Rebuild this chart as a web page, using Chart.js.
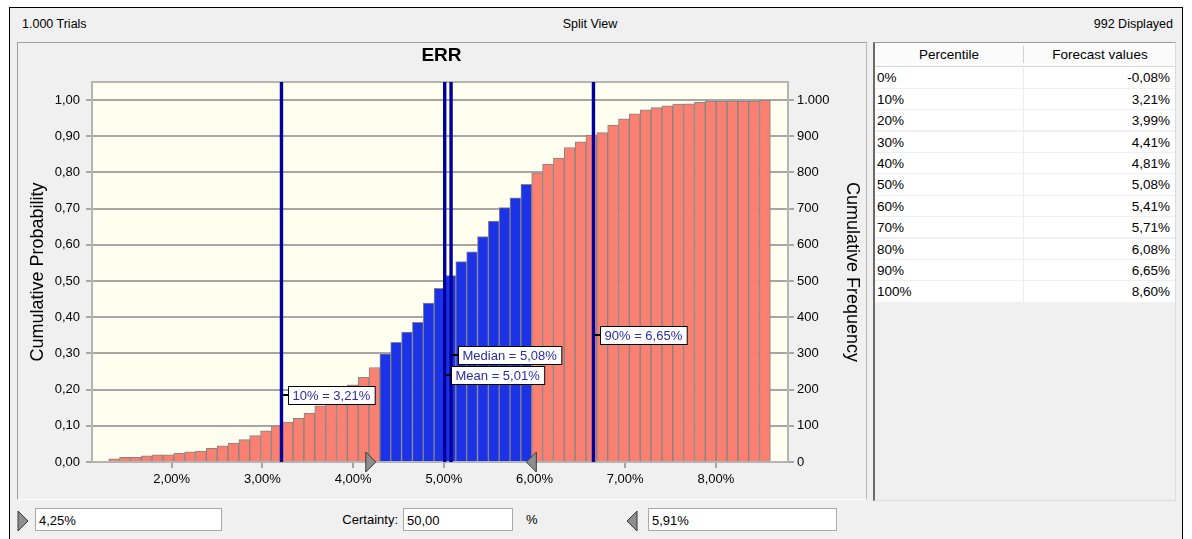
<!DOCTYPE html>
<html lang="de">
<head>
<meta charset="utf-8">
<title>ERR – Split View</title>
<script src="https://cdn.jsdelivr.net/npm/chart.js@4.4.1/dist/chart.umd.min.js"></script>
<style>
  html, body { margin: 0; padding: 0; }
  body {
    width: 1192px; height: 539px; position: relative; overflow: hidden; background: #ffffff;
    font-family: "Liberation Sans", Arial, sans-serif; font-size: 12.5px; color: #000;
  }
  .abs { position: absolute; }
  #frame { left: 9px; top: 7px; width: 1172px; height: 540px; border: 1px solid #000; background: #f0f0f0; }
  .hdr { top: 16px; line-height: 16px; white-space: nowrap; }
  #chartPanel {
    left: 17px; top: 42px; width: 848px; height: 456px;
    border: 1px solid #a0a0a0; border-right-color: #b8b8b8; border-bottom-color: #ffffff;
  }
  #chart { left: 18px; top: 43px; width: 847px; height: 446px; }
  #tablePanel {
    left: 873px; top: 42px; width: 300px; height: 457px; background: #f0f0f0;
    border-left: 2px solid #6a6a6a; border-top: 1px solid #9a9a9a;
    border-right: 1px solid #dcdcdc; border-bottom: 1px solid #dcdcdc;
    font-size: 13.5px;
  }
  #thead { position: absolute; left: 0; top: 0; width: 300px; height: 23px; background: #fbfbfb; border-bottom: 1px solid #d8d8d8; }
  #thead div { position: absolute; top: 0; height: 23px; line-height: 23px; text-align: center; }
  .row { position: absolute; left: 0; width: 300px; background: #fff; border-bottom: 1px solid #efefef; box-sizing: border-box; }
  .row div { position: absolute; top: 0; white-space: nowrap; }
  .box {
    height: 23px; line-height: 23px; background: #fff; border: 1px solid #a9a9a9;
    padding-left: 3px; box-sizing: border-box; font-size: 13px; white-space: nowrap;
  }
  .lbl { font-size: 13px; line-height: 25px; white-space: nowrap; }
</style>
</head>
<body>
<div id="frame" class="abs"></div>
<div id="trialsText" class="abs hdr" style="left:22px"></div>
<div class="abs hdr" style="left:490px;width:200px;text-align:center">Split View</div>
<div id="displayedText" class="abs hdr" style="right:19px;text-align:right"></div>

<div id="chartPanel" class="abs"></div>
<canvas id="chart" class="abs" width="847" height="446"></canvas>

<div id="tablePanel" class="abs">
  <div id="thead">
    <div style="left:0;width:148px">Percentile</div>
    <div style="left:148px;width:152px;border-left:1px solid #d0d0d0;top:3px;height:17px;line-height:17px">Forecast values</div>
  </div>
  <div id="tbody"></div>
</div>

<!-- certainty controls under the chart -->
<svg class="abs" style="left:17px;top:510px" width="12" height="22">
  <polygon points="1,1 11,11 1,21" fill="#8e8e8e" stroke="#3a3a3a" stroke-width="1"/>
</svg>
<div id="lowBox" class="abs box" style="left:35px;top:508px;width:187px"></div>
<div class="abs lbl" style="left:300px;top:507px;width:98px;text-align:right">Certainty:</div>
<div id="certBox" class="abs box" style="left:403px;top:508px;width:110px"></div>
<div class="abs lbl" style="left:526px;top:507px">%</div>
<svg class="abs" style="left:626px;top:510px" width="12" height="22">
  <polygon points="11,1 1,11 11,21" fill="#8e8e8e" stroke="#3a3a3a" stroke-width="1"/>
</svg>
<div id="highBox" class="abs box" style="left:648px;top:508px;width:189px"></div>

<script>
// ---- forecast data: ERR ----
const trials = 1000;
const displayed = 992;
const forecastName = 'ERR';

// certainty range (lower / upper grabber) and its certainty
const certaintyLow = 4.25;
const certaintyHigh = 5.91;
const certainty = 50.00;

// histogram bins (in %): first lower edge and bin width
const binLow = 1.305;
const binWidth = 0.1196;

// cumulative probability at the upper edge of each bin
const cumProb = [
  0.009, 0.013, 0.013, 0.017, 0.020, 0.020, 0.024, 0.028, 0.030, 0.038,
  0.045, 0.052, 0.062, 0.073, 0.086, 0.100, 0.110, 0.121, 0.135, 0.155,
  0.176, 0.195, 0.213, 0.234, 0.261, 0.299, 0.331, 0.359, 0.386, 0.439,
  0.480, 0.515, 0.554, 0.581, 0.623, 0.666, 0.703, 0.730, 0.767, 0.799,
  0.823, 0.840, 0.869, 0.885, 0.903, 0.910, 0.931, 0.948, 0.962, 0.973,
  0.979, 0.984, 0.989, 0.990, 0.994, 0.997, 0.997, 0.997, 0.997, 0.997,
  1.000
];

// axis ticks
const pctTicks = [2, 3, 4, 5, 6, 7, 8];
const probTicks = [0, 0.1, 0.2, 0.3, 0.4, 0.5, 0.6, 0.7, 0.8, 0.9, 1.0];
const freqTicks = [0, 100, 200, 300, 400, 500, 600, 700, 800, 900, 1000];

// marker lines
const markerNames = ['10%', 'Median', 'Mean', '90%'];
const markerValues = [3.21, 5.08, 5.01, 6.65];

// percentile table
const percentileLabels = ['0%', '10%', '20%', '30%', '40%', '50%', '60%', '70%', '80%', '90%', '100%'];
const forecastValues = [-0.08, 3.21, 3.99, 4.41, 4.81, 5.08, 5.41, 5.71, 6.08, 6.65, 8.60];

// ---- formatting helpers (German number style) ----
const fmt2 = v => v.toFixed(2).replace('.', ',');
const fmtInt = v => String(v).replace(/\B(?=(\d{3})+(?!\d))/g, '.');

// ---- header, table and certainty fields ----
document.getElementById('trialsText').textContent = fmtInt(trials) + ' Trials';
document.getElementById('displayedText').textContent = fmtInt(displayed) + ' Displayed';
document.getElementById('lowBox').textContent = fmt2(certaintyLow) + '%';
document.getElementById('certBox').textContent = fmt2(certainty);
document.getElementById('highBox').textContent = fmt2(certaintyHigh) + '%';

const tbody = document.getElementById('tbody');
const rowTop = 24.3, rowH = 21.4;
percentileLabels.forEach((p, i) => {
  const r = document.createElement('div');
  r.className = 'row';
  r.style.top = (rowTop + i * rowH) + 'px';
  r.style.height = rowH + 'px';
  r.innerHTML =
    '<div style="left:2px;line-height:' + rowH + 'px">' + p + '</div>' +
    '<div style="left:148px;width:1px;height:' + rowH + 'px;background:#ececec"></div>' +
    '<div style="right:5px;line-height:' + rowH + 'px">' + fmt2(forecastValues[i]) + '%</div>';
  tbody.appendChild(r);
});

// ---- chart ----
const barPoints = cumProb.map((p, i) => ({ x: binLow + (i + 0.5) * binWidth, y: p }));
const barColors = barPoints.map(pt =>
  (pt.x >= certaintyLow && pt.x <= certaintyHigh) ? '#1c32e6' : '#fa8072');

const uiFont = { family: '"Liberation Sans", Arial, sans-serif', size: 13 };
const gridGray = '#a6a6a6';

const plotDecor = {
  id: 'plotDecor',
  beforeDraw(chart, args, o) {
    const { ctx, chartArea: a } = chart;
    ctx.save();
    ctx.fillStyle = o.plotColor;
    ctx.fillRect(a.left, a.top, a.right - a.left, a.bottom - a.top);
    ctx.restore();
  },
  afterDatasetsDraw(chart, args, o) {
    const { ctx, chartArea: a, scales: { x, y } } = chart;
    ctx.save();
    // plot frame
    ctx.strokeStyle = o.frameColor;
    ctx.lineWidth = 2;
    ctx.strokeRect(a.left, a.top, a.right - a.left, a.bottom - a.top);

    // percentile / mean / median lines
    ctx.strokeStyle = o.lineColor;
    ctx.lineWidth = 3.4;
    markerValues.forEach(v => {
      const px = x.getPixelForValue(v);
      ctx.beginPath();
      ctx.moveTo(px, a.top);
      ctx.lineTo(px, a.bottom);
      ctx.stroke();
    });

    // value tags
    ctx.font = '13px "Liberation Sans", Arial, sans-serif';
    ctx.textBaseline = 'middle';
    markerValues.forEach((v, i) => {
      const px = x.getPixelForValue(v);
      const py = Math.round(y.getPixelForValue(o.tagLevels[i]));
      const text = markerNames[i] + ' = ' + fmt2(v) + '%';
      const w = ctx.measureText(text).width + 9;
      const bx = Math.round(px + 6.5) + 0.5;
      const by = py - 9 + 0.5;
      ctx.strokeStyle = '#000';
      ctx.lineWidth = 2;
      ctx.beginPath();
      ctx.moveTo(px + 1, py);
      ctx.lineTo(bx, py);
      ctx.stroke();
      ctx.fillStyle = '#ffffff';
      ctx.fillRect(bx, by, w, 18);
      ctx.lineWidth = 1;
      ctx.strokeRect(bx, by, w, 18);
      ctx.fillStyle = o.tagText;
      ctx.fillText(text, bx + 4, py + 1);
    });

    // certainty grabbers on the x axis
    const gy = a.bottom;
    ctx.fillStyle = '#8e8e8e';
    ctx.strokeStyle = '#3a3a3a';
    ctx.lineWidth = 1;
    const lx = x.getPixelForValue(certaintyLow);
    ctx.beginPath();
    ctx.moveTo(lx - 10, gy - 10); ctx.lineTo(lx, gy); ctx.lineTo(lx - 10, gy + 10); ctx.closePath();
    ctx.fill(); ctx.stroke();
    const hx = x.getPixelForValue(certaintyHigh);
    ctx.beginPath();
    ctx.moveTo(hx + 10, gy - 10); ctx.lineTo(hx, gy); ctx.lineTo(hx + 10, gy + 10); ctx.closePath();
    ctx.fill(); ctx.stroke();
    ctx.restore();
  }
};

new Chart(document.getElementById('chart'), {
  type: 'bar',
  data: {
    datasets: [{
      data: barPoints,
      backgroundColor: barColors,
      borderColor: '#848484',
      borderWidth: 1,
      barPercentage: 1,
      categoryPercentage: 1,
      yAxisID: 'y'
    }]
  },
  options: {
    responsive: false,
    animation: false,
    devicePixelRatio: 1,
    layout: { padding: 0 },
    plugins: {
      legend: { display: false },
      tooltip: { enabled: false },
      title: {
        display: true,
        text: forecastName,
        color: '#000',
        font: { family: '"Liberation Sans", Arial, sans-serif', size: 19, weight: 'bold' },
        padding: { top: 1, bottom: 15.2 }
      },
      plotDecor: {
        plotColor: '#fffff0',
        frameColor: '#b4b4b4',
        lineColor: '#00009e',
        tagText: '#2c2ca6',
        tagLevels: [0.186, 0.296, 0.240, 0.351]
      }
    },
    scales: {
      x: {
        type: 'linear',
        min: 1.121,
        max: 8.795,
        offset: false,
        grid: { offset: false, drawOnChartArea: false, drawTicks: true, tickLength: 6, color: gridGray, lineWidth: 2 },
        border: { display: false },
        afterBuildTicks: s => { s.ticks = pctTicks.map(v => ({ value: v })); },
        afterFit: s => { s.height = 27; },
        ticks: {
          autoSkip: false, maxRotation: 0, padding: 4, color: '#000', font: uiFont,
          callback: v => fmt2(v) + '%'
        }
      },
      y: {
        type: 'linear',
        position: 'left',
        min: 0,
        max: 1.05,
        grid: { color: gridGray, lineWidth: 2, tickLength: 6 },
        border: { display: false },
        afterBuildTicks: s => { s.ticks = probTicks.map(v => ({ value: v })); },
        afterFit: s => { s.width = 74; },
        ticks: {
          autoSkip: false, padding: 6, color: '#000', font: uiFont,
          callback: v => fmt2(v)
        },
        title: {
          display: true, text: 'Cumulative Probability', color: '#000',
          font: { family: '"Liberation Sans", Arial, sans-serif', size: 18 },
          padding: { top: 9, bottom: 0 }
        }
      },
      y2: {
        type: 'linear',
        position: 'right',
        min: 0,
        max: trials * 1.05,
        grid: { drawOnChartArea: false, color: gridGray, lineWidth: 2, tickLength: 6 },
        border: { display: false },
        afterBuildTicks: s => { s.ticks = freqTicks.map(v => ({ value: v })); },
        afterFit: s => { s.width = 77; },
        ticks: {
          autoSkip: false, padding: 3, color: '#000', font: uiFont,
          callback: v => fmtInt(v)
        },
        title: {
          display: true, text: 'Cumulative Frequency', color: '#000',
          font: { family: '"Liberation Sans", Arial, sans-serif', size: 18 },
          padding: { top: 2, bottom: 0 }
        }
      }
    }
  },
  plugins: [plotDecor]
});
</script>
</body>
</html>
